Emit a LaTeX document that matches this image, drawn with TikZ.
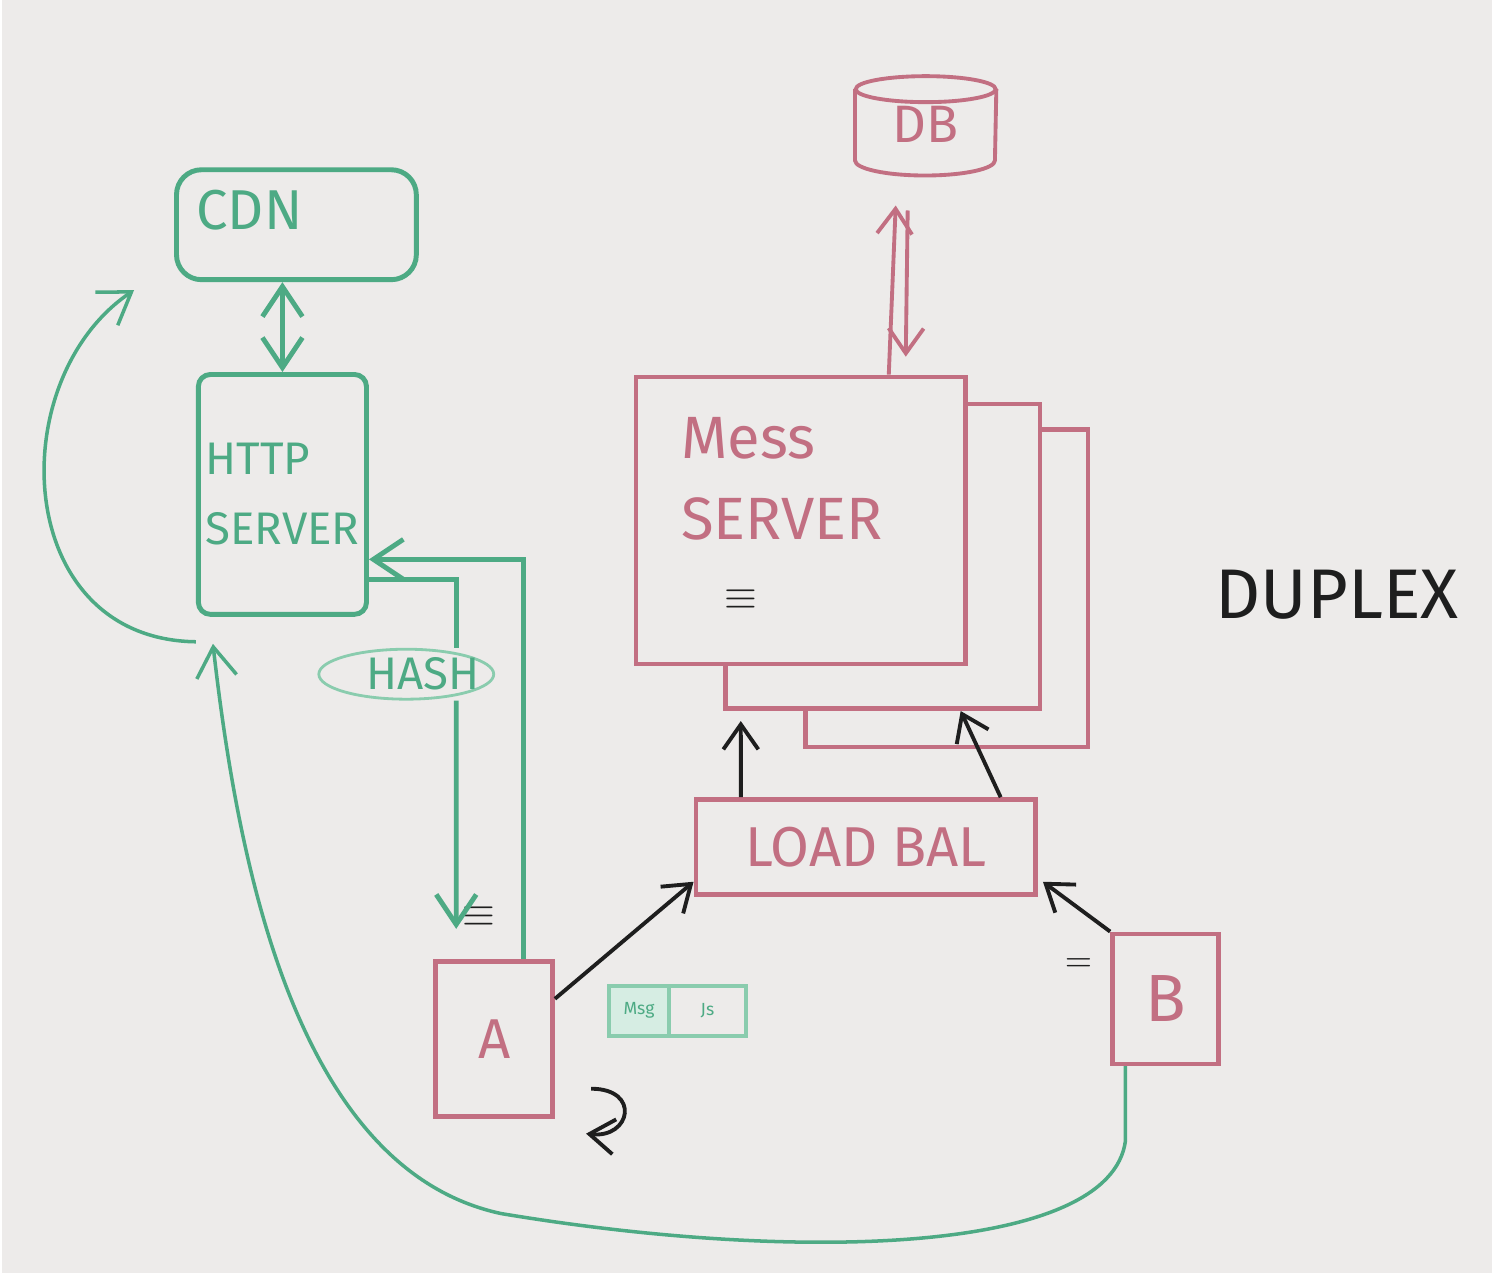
\documentclass[tikz,border=0pt]{standalone}
\usepackage{fontspec}
\setmainfont{Fira Sans}
\usepackage{tikz}
\usetikzlibrary{arrows.meta, positioning, calc, shapes.geometric}
\definecolor{board}{HTML}{EDEBEA}
\definecolor{marker}{HTML}{4DAA84}
\definecolor{markerlt}{HTML}{8ACCAE}
\definecolor{rose}{HTML}{C26F82}
\definecolor{ink}{HTML}{1E1E1E}

\begin{document}
\begin{tikzpicture}[x=0.01cm, y=-0.01cm,
    web/.style={rectangle, draw=marker, line width=1.4pt, fill=board},
    chat/.style={rectangle, draw=rose, line width=1.3pt, fill=board},
    webtxt/.style={text=marker, font=\fontsize{16}{22}\selectfont},
    chattxt/.style={text=rose, font=\fontsize{16}{20}\selectfont},
    webline/.style={draw=marker, line width=1.4pt},
    webarrow/.style={webline, -{Straight Barb[length=3mm,width=4mm]}},
    webboth/.style={webline, {Straight Barb[length=3mm,width=4mm]}-{Straight Barb[length=3mm,width=4mm]}},
    chatarrow/.style={draw=rose, line width=1.1pt, -{Straight Barb[length=2.5mm,width=3.5mm]}},
    push/.style={draw=ink, line width=1.1pt, -{Straight Barb[length=2.5mm,width=3.5mm]}},
    cell/.style={rectangle, draw=markerlt, line width=1pt, outer sep=0pt, minimum height=0.5cm, text=marker, font=\tiny},
]
    % Board
    \fill[board] (0,0) rectangle (1492,1274);
    % Web side
    \node[web, rounded corners=0.25cm, minimum width=2.4cm, minimum height=1.1cm] (cdn) at (295,225) {};
    \node[webtxt, anchor=west] (cdntxt) at ([xshift=0.1cm,yshift=0.15cm]cdn.west) {CDN};
    \node[web, webtxt, font=\fontsize{13}{20}\selectfont, rounded corners=0.12cm, inner xsep=2pt, minimum width=1.67cm, minimum height=2.4cm, align=left] (http) at (281,495) {HTTP\\SERVER};
    \node[ellipse, draw=markerlt, line width=0.8pt, minimum width=1.75cm, minimum height=0.5cm] (hash) at (405,675) {};
    \node[text=marker, font=\fontsize{13}{15}\selectfont] (hashtxt) at (422,675) {HASH};
    % Clients
    \node[chat, chattxt, minimum width=1.17cm, minimum height=1.55cm] (a) at (493,1040) {A};
    \node[chat, chattxt, font=\fontsize{19}{22}\selectfont, minimum width=1.06cm, minimum height=1.3cm] (b) at (1165,1000) {B};
    \node[cell, fill=markerlt!35, minimum width=0.6cm] (msgcell) at (638,1012) {Msg};
    \node[cell, minimum width=0.77cm, right=0pt of msgcell] (jscell) {Js};
    % Message servers
    \node[chat, chattxt, minimum width=3.4cm, minimum height=0.95cm] (lb) at (865,848) {LOAD BAL};
    \foreach \n/\x/\y/\w/\h in {mess3/946/589/2.83/3.18, mess2/882/557/3.15/3.05, mess/800/521/3.3/2.87} {
        \node[chat, minimum width=\w cm, minimum height=\h cm] (\n) at (\x,\y) {};
    }
    \node[chattxt, font=\fontsize{17}{23}\selectfont, anchor=north west, align=left] (messtxt) at ([xshift=0.35cm,yshift=-0.3cm]mess.north west) {Mess\\SERVER};
    \node[text=ink, font=\large] (messeq) at (740,600) {$\equiv$};
    % DB
    \node[chattxt, font=\fontsize{15}{18}\selectfont, minimum width=1.4cm, minimum height=1.1cm] (db) at (925,125) {DB};
    \draw[draw=rose, line width=1.1pt] ([yshift=-0.2cm]db.north west) -- ([yshift=0.2cm]db.south west) arc[start angle=180, end angle=360, x radius=0.7cm, y radius=0.15cm] -- ([yshift=-0.2cm]db.north east);
    \draw[draw=rose, line width=1.1pt] ([yshift=-0.2cm]db.north) ellipse[x radius=0.7cm, y radius=0.13cm];
    % Labels
    \node[text=ink, font=\fontsize{20}{24}\selectfont] (duplex) at (1337,595) {DUPLEX};
    \node[text=ink, font=\large] (hasheq) at (478,918) {$\equiv$};
    \node[text=ink] (beq) at (1078,966) {$=$};
    \coordinate (hashend) at (455,930);

    % Web connectors
    \draw[webboth] (cdn.south -| http.north) -- (http.north);
    \draw[webline] ([yshift=-0.85cm]http.east) -| ([xshift=0.5cm]hash.north);
    \draw[webarrow] ([xshift=0.5cm]hash.south) -- (hashend);
    \draw[webarrow] ([xshift=0.29cm]a.north) |- ([yshift=-0.65cm]http.east);
    \draw[webarrow, line width=1pt] ([yshift=-0.25cm]http.south west) .. controls (10,640) and (0,380) .. ([xshift=-0.4cm,yshift=-0.08cm]cdn.south west);
    \draw[webarrow, line width=1pt] ([xshift=-0.4cm]b.south) -- ++(0,75) .. controls (1110,1255) and (800,1265) .. (500,1215) .. controls (290,1170) and (235,850) .. ([xshift=0.17cm,yshift=-0.27cm]http.south west);
    % Message connectors
    \draw[push] ([yshift=0.4cm]a.east) -- ([yshift=0.15cm]lb.south west);
    \draw[push] (b.north west) -- ([xshift=0.05cm,yshift=0.15cm]lb.south east);
    \draw[push] ([xshift=-1.25cm]lb.north) -- ([xshift=-1.42cm,yshift=-0.1cm]mess2.south);
    \draw[push] ([xshift=1.35cm]lb.north) -- ([xshift=0.78cm]mess2.south);
    \draw[chatarrow] ([xshift=0.88cm]mess.north) -- ([xshift=-0.3cm,yshift=-0.25cm]db.south);
    \draw[chatarrow] ([xshift=-0.18cm,yshift=-0.3cm]db.south) -- ([xshift=1.05cm,yshift=0.18cm]mess.north);
    \draw[push] (590,1090) .. controls (640,1090) and (630,1140) .. (585,1135);
\end{tikzpicture}
\end{document}
